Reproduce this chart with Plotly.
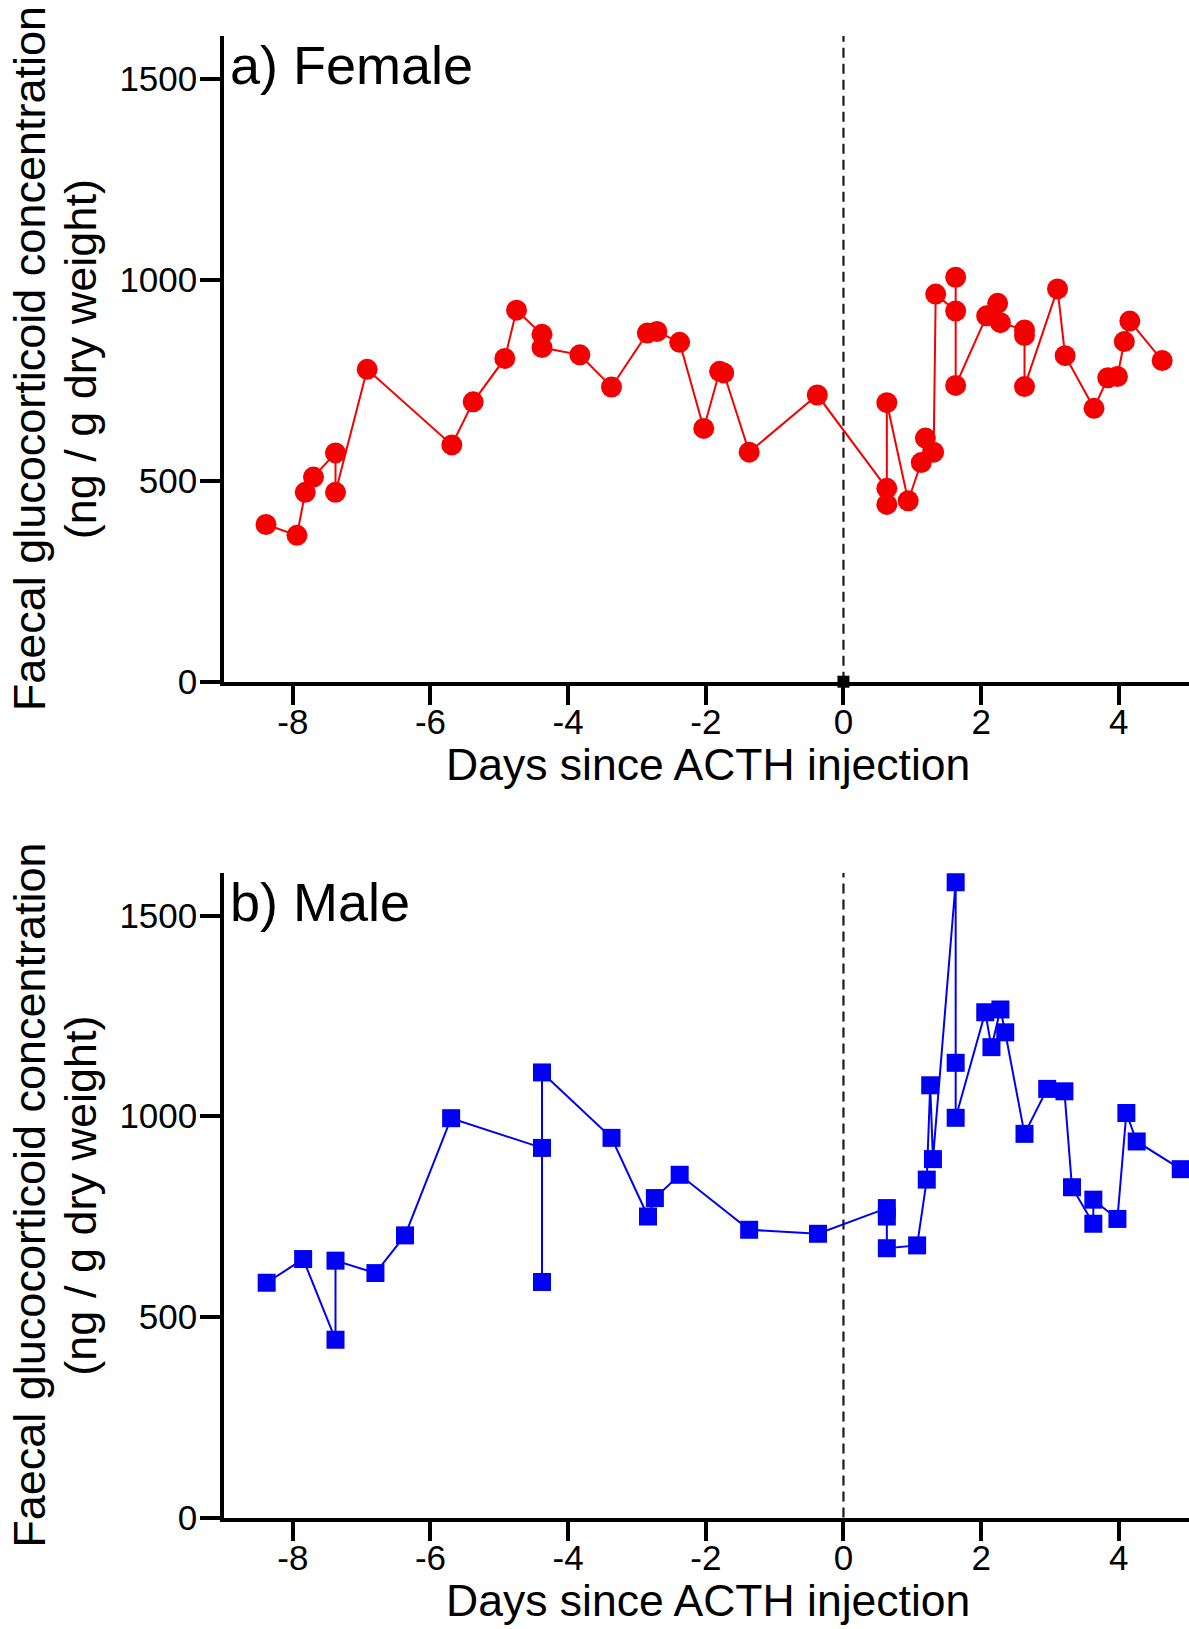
import plotly.graph_objects as go

W, H = 1189, 1629
LEFT = 224  # plot area starts here, runs to the right edge

FONT = "Liberation Sans, Arial, Helvetica, sans-serif"

# a) Female
FEMALE_DAYS = [-8.39, -7.94, -7.82, -7.70, -7.38, -7.38, -6.92, -5.69, -5.38, -4.92,
               -4.75, -4.38, -4.38, -3.83, -3.37, -2.85, -2.71, -2.38, -2.03, -1.80,
               -1.74, -1.37, -0.38, 0.63, 0.63, 0.63, 0.94, 1.13, 1.19, 1.31,
               1.34, 1.63, 1.63, 1.63, 2.08, 2.24, 2.28, 2.63, 2.63, 2.63,
               3.11, 3.22, 3.64, 3.84, 3.98, 4.08, 4.16, 4.63]
FEMALE_GC = [391, 364, 471, 509, 569, 471, 777, 589, 696, 804,
             924, 864, 831, 813, 733, 867, 871, 844, 630, 772,
             768, 571, 713, 481, 441, 694, 450, 545, 606, 571,
             964, 922, 1006, 737, 910, 941, 893, 875, 861, 734,
             977, 811, 680, 756, 759, 846, 897, 799]

# b) Male
MALE_DAYS = [-8.38, -7.85, -7.38, -7.38, -6.80, -6.37, -5.70, -4.38, -4.38, -4.38,
             -3.37, -2.84, -2.74, -2.38, -1.37, -0.37, 0.63, 0.63, 0.63, 1.07,
             1.21, 1.26, 1.30, 1.63, 1.63, 1.63, 2.06, 2.15, 2.28, 2.35,
             2.63, 2.96, 3.21, 3.32, 3.63, 3.63, 3.98, 4.11, 4.26, 4.90]
MALE_GC = [585, 644, 443, 640, 609, 703, 995, 921, 587, 1109,
           946, 750, 796, 854, 717, 707, 771, 750, 671, 678,
           842, 1077, 893, 1583, 1133, 996, 1259, 1172, 1266, 1209,
           956, 1068, 1062, 823, 732, 792, 744, 1008, 937, 868]

# injection marker on the top axis
INJ_DAY = [0]
INJ_GC = [0]

X_TICKS = [-8, -6, -4, -2, 0, 2, 4]
X_TICK_LABELS = ["-8", "-6", "-4", "-2", "0", "2", "4"]
Y_TICKS = [0, 500, 1000, 1500]
X_RANGE = [-9, 5.02]
Y_RANGE = [0, 1606]

PANEL_LABELS = ["a) Female", "b) Male"]
Y_TITLE = ["Faecal glucocorticoid concentration", "(ng / g dry weight)"]
X_TITLE = "Days since ACTH injection"


def px_x(px):
    return (px - LEFT) / (W - LEFT)


def px_y(py):
    return (H - py) / H


def axis_style(**kw):
    d = dict(showline=True, linecolor="black", linewidth=3.5, mirror=False,
             ticks="outside", ticklen=20, tickwidth=3.5, tickcolor="black",
             showgrid=False, zeroline=False, automargin=False, fixedrange=True,
             tickfont=dict(family=FONT, size=35, color="black"))
    d.update(kw)
    return d


fig = go.Figure()

fig.add_trace(go.Scatter(
    x=FEMALE_DAYS, y=FEMALE_GC, mode="lines+markers", xaxis="x", yaxis="y",
    line=dict(color="#f50000", width=2),
    marker=dict(symbol="circle", size=21, color="#f50000", line=dict(width=0)),
    showlegend=False,
))
fig.add_trace(go.Scatter(
    x=INJ_DAY, y=INJ_GC, mode="markers", xaxis="x", yaxis="y", cliponaxis=False,
    marker=dict(symbol="square", size=12, color="black", line=dict(width=0)),
    showlegend=False,
))
fig.add_trace(go.Scatter(
    x=MALE_DAYS, y=MALE_GC, mode="lines+markers", xaxis="x2", yaxis="y2",
    line=dict(color="#0000f5", width=2),
    marker=dict(symbol="square", size=18, color="#0000f5", line=dict(width=0)),
    showlegend=False,
))

# panel geometry in pixels: (axis top, axis bottom)
panels = [(36, 681.7), (873, 1517.5)]

annotations = []
shapes = []
for i, (top, bottom) in enumerate(panels):
    xa = "x" if i == 0 else "x2"
    ya = "y" if i == 0 else "y2"
    mid = (top + bottom) / 2
    shapes.append(dict(type="line", xref=xa, yref=ya + " domain", x0=0, x1=0, y0=0, y1=1,
                       line=dict(color="#1a1a1a", width=2.2, dash="10px,6px"), layer="below"))
    annotations.append(dict(text=PANEL_LABELS[i], xref="paper", yref="paper",
                            x=px_x(230), y=px_y(top + 48 - 18.7),
                            xanchor="left", yanchor="middle", showarrow=False,
                            borderpad=0, borderwidth=0,
                            font=dict(family=FONT, size=54, color="black")))
    for line_txt, cx in zip(Y_TITLE, [29.5, 80.4]):
        annotations.append(dict(text=line_txt, xref="paper", yref="paper",
                                x=px_x(cx), y=px_y(mid), textangle=-90,
                                xanchor="center", yanchor="middle", showarrow=False,
                                borderpad=0, borderwidth=0,
                                font=dict(family=FONT, size=45, color="black")))
    annotations.append(dict(text=X_TITLE, xref="paper", yref="paper",
                            x=px_x(708.4), y=px_y(bottom + 83),
                            xanchor="center", yanchor="middle", showarrow=False,
                            borderpad=0, borderwidth=0,
                            font=dict(family=FONT, size=44.5, color="black")))

xcommon = dict(range=X_RANGE, tickvals=X_TICKS, ticktext=X_TICK_LABELS, ticklabelstandoff=-13)
ycommon = dict(range=Y_RANGE, tickvals=Y_TICKS, ticklabelstandoff=-4)

fig.update_layout(
    width=W, height=H,
    margin=dict(l=LEFT, r=0, t=0, b=0),
    paper_bgcolor="white", plot_bgcolor="white",
    font=dict(family=FONT, color="black"),
    xaxis=axis_style(domain=[0, 1], anchor="y", **xcommon),
    yaxis=axis_style(domain=[px_y(panels[0][1]), px_y(panels[0][0])], anchor="x", **ycommon),
    xaxis2=axis_style(domain=[0, 1], anchor="y2", **xcommon),
    yaxis2=axis_style(domain=[px_y(panels[1][1]), px_y(panels[1][0])], anchor="x2", **ycommon),
    shapes=shapes,
    annotations=annotations,
)

# drop the browser's default body margin so the figure sits at the page corner
fig.write_html("out.html", config={"displayModeBar": False},
               post_script="document.body.style.margin='0';")
